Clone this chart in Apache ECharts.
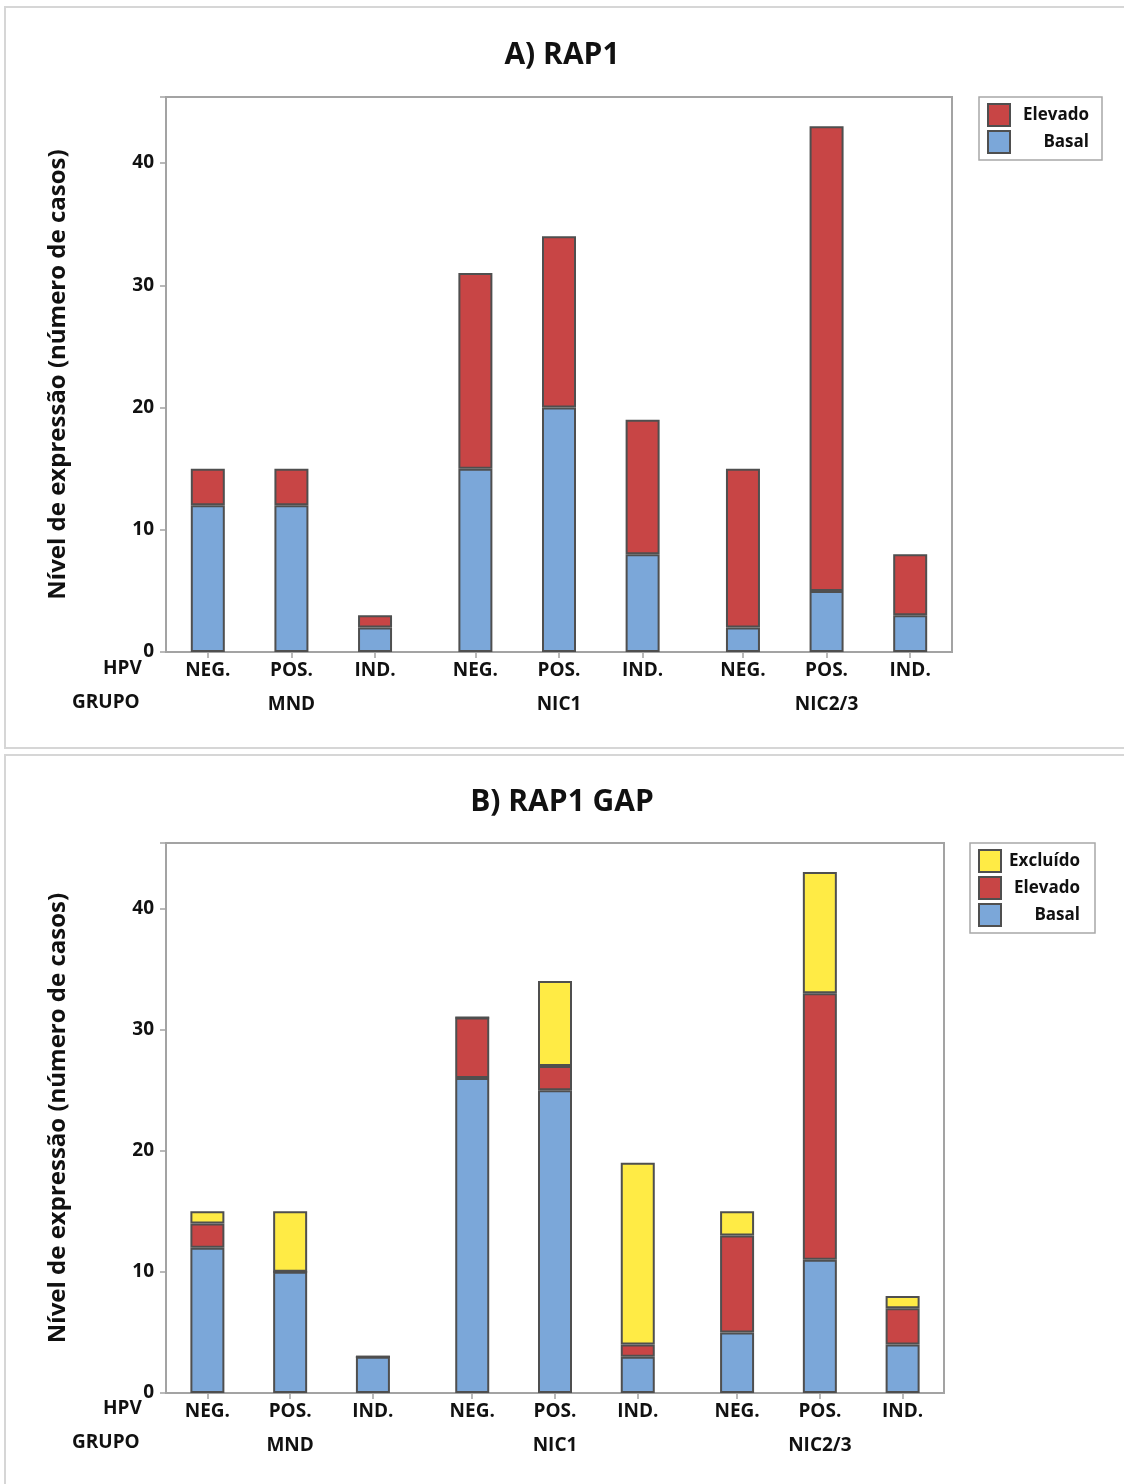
<!DOCTYPE html>
<html>
<head>
<meta charset="utf-8">
<script src="https://cdn.jsdelivr.net/npm/echarts@6/dist/echarts.min.js"></script>
<style>
  html, body { margin: 0; padding: 0; background: #fff; }
  #chart { width: 1124px; height: 1484px; }
</style>
</head>
<body>
<div id="chart"></div>
<script>
// ---- data ----
const hpvLabels = ['NEG.', 'POS.', 'IND.'];
const grupoLabels = ['MND', 'NIC1', 'NIC2/3'];
const yTicks = [0, 10, 20, 30, 40];

// A) RAP1
const rap1Basal   = [12, 12, 2, 15, 20, 8, 2, 5, 3];
const rap1Elevado = [3, 3, 1, 16, 14, 11, 13, 38, 5];

// B) RAP1 GAP
const gapBasal    = [12, 10, 3, 26, 25, 3, 5, 11, 4];
const gapElevado  = [2, 0, 0, 5, 2, 1, 8, 22, 3];
const gapExcluido = [1, 5, 0, 0, 7, 15, 2, 10, 1];

// ---- slot layout: a fine category axis so groups get a wider gap ----
const SLOT_STEP = 10;      // slots between bars inside a group
const GROUP_EXTRA = 2;     // extra slots between groups
const EDGE_LEFT = 5;       // slots before first bar
const EDGE_RIGHT = 5;      // slots after last bar
const barSlot = [];
const barLabel = [];
grupoLabels.forEach((g, gi) => hpvLabels.forEach((h, hi) => {
  barSlot.push(EDGE_LEFT + gi * (3 * SLOT_STEP + GROUP_EXTRA) + hi * SLOT_STEP);
  barLabel.push(h);
}));
const groupSlot = grupoLabels.map((g, gi) => barSlot[gi * 3 + 1]);
const nSlots = barSlot[barSlot.length - 1] + EDGE_RIGHT + 1;
const slotCats = Array.from({ length: nSlots }, (_, i) => 's' + i);

function spread(vals) {
  const arr = new Array(nSlots).fill('-');
  vals.forEach((v, i) => { arr[barSlot[i]] = v; });
  return arr;
}

const FONT = '"Open Sans", "Noto Sans", sans-serif';
const C_BASAL = '#7ba7d9';
const C_ELEV = '#c84545';
const C_EXCL = '#ffeb45';
const EDGE = '#4f4f4f';
const AXIS = '#a3a3a3';
const TXT = '#111';

const grids = [
  { left: 166, right: 172, top: 97, height: 555, show: true, borderColor: AXIS, borderWidth: 2 },
  { left: 166, right: 180, top: 843, height: 550, show: true, borderColor: AXIS, borderWidth: 2 }
];

function xAxesFor(gi) {
  return [
    {
      type: 'category', gridIndex: gi, data: slotCats, boundaryGap: false,
      splitLine: { show: false },
      axisLine: { show: true, lineStyle: { color: AXIS, width: 2 } },
      axisTick: { show: true, interval: (idx) => barSlot.indexOf(idx) >= 0, length: 6, lineStyle: { color: AXIS, width: 1.5 } },
      axisLabel: {
        interval: (idx) => barSlot.indexOf(idx) >= 0, margin: 9,
        formatter: (v, idx) => { const k = barSlot.indexOf(idx); return k >= 0 ? barLabel[k] : ''; },
        fontFamily: FONT, fontWeight: 'bold', fontSize: 19, color: TXT
      }
    },
    {
      type: 'category', gridIndex: gi, data: slotCats, boundaryGap: false, position: 'bottom', offset: 34,
      splitLine: { show: false },
      axisLine: { show: false },
      axisTick: { show: false },
      axisLabel: {
        interval: (idx) => groupSlot.indexOf(idx) >= 0, margin: 9,
        formatter: (v, idx) => { const k = groupSlot.indexOf(idx); return k >= 0 ? grupoLabels[k] : ''; },
        fontFamily: FONT, fontWeight: 'bold', fontSize: 19, color: TXT
      }
    }
  ];
}

function yAxisFor(gi) {
  return {
    type: 'value', gridIndex: gi, min: 0, max: 45.4, interval: 10,
    name: 'Nível de expressão (número de casos)',
    nameLocation: 'middle', nameGap: 96,
    nameTextStyle: { fontFamily: FONT, fontWeight: 'bold', fontSize: 24, color: TXT },
    splitLine: { show: false },
    axisLine: { show: true, onZero: false, lineStyle: { color: AXIS, width: 2 } },
    axisTick: { show: true, length: 6, lineStyle: { color: AXIS, width: 1.5 } },
    axisLabel: {
      margin: 12, fontFamily: FONT, fontWeight: 'bold', fontSize: 19, color: TXT,
      formatter: v => (yTicks.indexOf(v) >= 0 ? String(v) : '')
    }
  };
}

function barSeries(name, vals, color, gi, stack) {
  return {
    type: 'bar', name: name, stack: stack,
    xAxisIndex: gi * 2, yAxisIndex: gi,
    barWidth: 34,
    data: spread(vals),
    itemStyle: { color: color, borderColor: EDGE, borderWidth: 2 },
    emphasis: { disabled: true },
    animation: false
  };
}

const legendBase = {
  orient: 'vertical', itemWidth: 22, itemHeight: 22, itemGap: 3,
  borderColor: '#a8a8a8', borderWidth: 1.5, borderRadius: 0,
  selectedMode: false, icon: 'rect',
  formatter: name => '{t|' + name.trim() + '}',
  textStyle: {
    fontFamily: FONT, fontWeight: 'bold', fontSize: 17, color: TXT,
    rich: { t: { fontFamily: FONT, fontWeight: 'bold', fontSize: 17, color: TXT, width: 74, align: 'right' } }
  }
};

const titleStyle = { fontFamily: FONT, fontWeight: 'bold', fontSize: 30, color: TXT };

const option = {
  backgroundColor: '#ffffff',
  animation: false,
  title: [
    { text: 'A) RAP1', left: 'center', top: 35, textStyle: titleStyle },
    { text: 'B) RAP1 GAP', left: 'center', top: 782, textStyle: titleStyle }
  ],
  legend: [
    Object.assign({}, legendBase, { left: 979, top: 97, padding: [6, 13, 6, 8], data: ['Elevado', 'Basal'] }),
    Object.assign({}, legendBase, { left: 970, top: 843, padding: [6, 15, 6, 8], data: ['Excluído ', 'Elevado ', 'Basal '] })
  ],
  grid: grids,
  xAxis: xAxesFor(0).concat(xAxesFor(1)),
  yAxis: [yAxisFor(0), yAxisFor(1)],
  series: [
    barSeries('Basal', rap1Basal, C_BASAL, 0, 'a'),
    barSeries('Elevado', rap1Elevado, C_ELEV, 0, 'a'),
    barSeries('Basal ', gapBasal, C_BASAL, 1, 'b'),
    barSeries('Elevado ', gapElevado, C_ELEV, 1, 'b'),
    barSeries('Excluído ', gapExcluido, C_EXCL, 1, 'b')
  ],
  graphic: [
    { type: 'rect', shape: { x: 5, y: 7, width: 1140, height: 741 }, style: { fill: 'none', stroke: '#d6d6d6', lineWidth: 2 }, z: -10, silent: true },
    { type: 'rect', shape: { x: 5, y: 755, width: 1140, height: 740 }, style: { fill: 'none', stroke: '#d6d6d6', lineWidth: 2 }, z: -10, silent: true },
    { type: 'text', left: 103, top: 659, style: { text: 'HPV', font: 'bold 19px ' + FONT, fill: TXT } },
    { type: 'text', left: 72, top: 693, style: { text: 'GRUPO', font: 'bold 19px ' + FONT, fill: TXT } },
    { type: 'text', left: 103, top: 1399, style: { text: 'HPV', font: 'bold 19px ' + FONT, fill: TXT } },
    { type: 'text', left: 72, top: 1433, style: { text: 'GRUPO', font: 'bold 19px ' + FONT, fill: TXT } }
  ]
};

const chart = echarts.init(document.getElementById('chart'), null, { renderer: 'canvas' });
chart.setOption(option);
</script>
</body>
</html>
